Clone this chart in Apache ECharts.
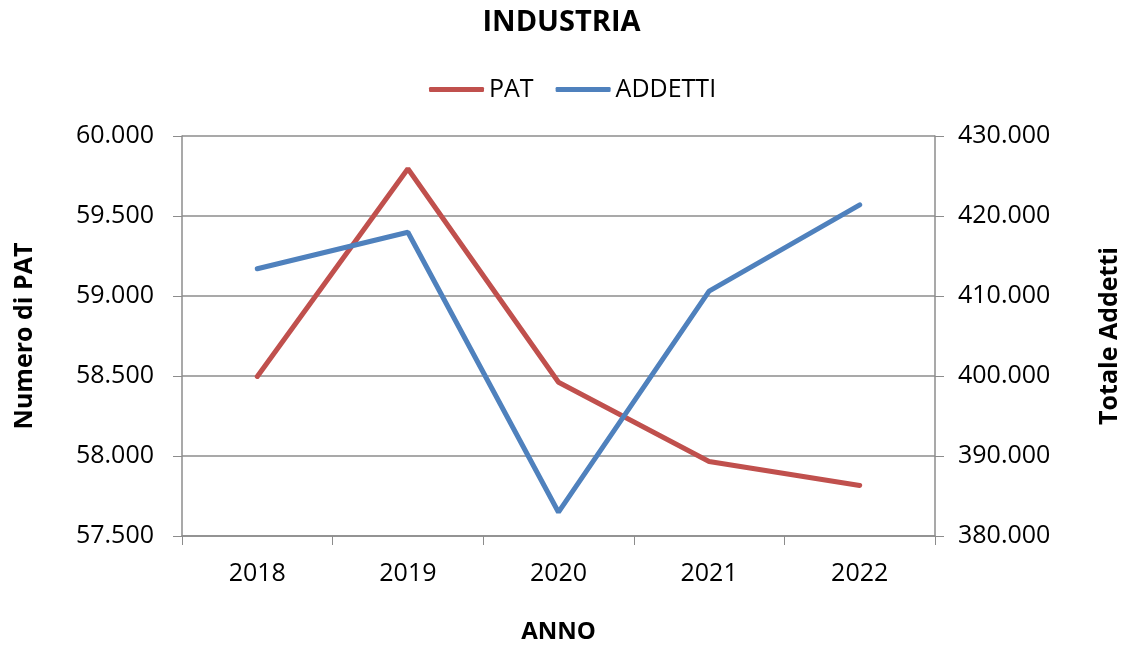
<!DOCTYPE html>
<html>
<head>
<meta charset="utf-8">
<script src="https://cdn.jsdelivr.net/npm/echarts@6/dist/echarts.min.js"></script>
<style>
    html, body { margin: 0; padding: 0; background: #fff; }
    #chart { width: 1123px; height: 646px; }
</style>
</head>
<body>
<div id="chart"></div>
<script>
var anni = ['2018', '2019', '2020', '2021', '2022'];
var pat = [58497, 59795, 58461, 57966, 57816];
var addetti = [413400, 417975, 382975, 410600, 421400];

// separatore migliaia con il punto
function fmt(v) {
    return String(Math.round(v)).replace(/\B(?=(\d{3})+(?!\d))/g, '.');
}

var font = 'Open Sans';
var chart = echarts.init(document.getElementById('chart'));
var option = {
    backgroundColor: '#fff',
    animation: false,
    textStyle: { fontFamily: font },
    title: {
        text: 'INDUSTRIA',
        left: 'center',
        top: 3,
        textStyle: { fontSize: 29, fontWeight: 'bold', color: '#000', fontFamily: font }
    },
    legend: {
        top: 72,
        left: 424,
        itemWidth: 55,
        itemHeight: 5,
        itemGap: 22,
        icon: 'roundRect',
        textStyle: { fontSize: 25, color: '#000', fontFamily: font },
        data: ['PAT', 'ADDETTI']
    },
    grid: { left: 182, right: 188, top: 136, bottom: 110, outerBoundsMode: 'none' },
    xAxis: {
        type: 'category',
        data: anni,
        boundaryGap: true,
        name: 'ANNO',
        nameLocation: 'middle',
        nameGap: 84,
        nameTextStyle: { fontSize: 24, fontWeight: 'bold', color: '#000' },
        axisLine: { lineStyle: { color: '#8c8c8c', width: 1.5 } },
        axisTick: { show: true, length: 9, lineStyle: { color: '#8c8c8c' } },
        axisLabel: { fontSize: 25, color: '#000', margin: 25 }
    },
    yAxis: [
        {
            type: 'value',
            min: 57500, max: 60000, interval: 500,
            name: 'Numero di PAT',
            nameLocation: 'middle',
            nameGap: 145,
            nameTextStyle: { fontSize: 25, fontWeight: 'bold', color: '#000' },
            axisLine: { show: true, lineStyle: { color: '#8c8c8c', width: 1.5 } },
            axisTick: { show: true, length: 9, lineStyle: { color: '#8c8c8c' } },
            splitLine: { lineStyle: { color: '#8c8c8c', width: 1.5 } },
            axisLabel: { fontSize: 25, color: '#000', margin: 28, formatter: fmt }
        },
        {
            type: 'value',
            min: 380000, max: 430000, interval: 10000,
            name: 'Totale Addetti',
            nameLocation: 'middle',
            nameGap: 162,
            nameTextStyle: { fontSize: 25, fontWeight: 'bold', color: '#000' },
            axisLine: { show: true, lineStyle: { color: '#8c8c8c', width: 1.5 } },
            axisTick: { show: true, length: 9, lineStyle: { color: '#8c8c8c' } },
            splitLine: { show: false },
            axisLabel: { fontSize: 25, color: '#000', margin: 23, formatter: fmt }
        }
    ],
    series: [
        {
            name: 'PAT',
            type: 'line',
            yAxisIndex: 0,
            data: pat,
            symbol: 'none',
            color: '#C0504D',
            lineStyle: { width: 5, color: '#C0504D', cap: 'round' }
        },
        {
            name: 'ADDETTI',
            type: 'line',
            yAxisIndex: 1,
            data: addetti,
            symbol: 'none',
            color: '#4F81BD',
            lineStyle: { width: 5, color: '#4F81BD', cap: 'round' }
        }
    ]
};
option && chart.setOption(option);
</script>
</body>
</html>
